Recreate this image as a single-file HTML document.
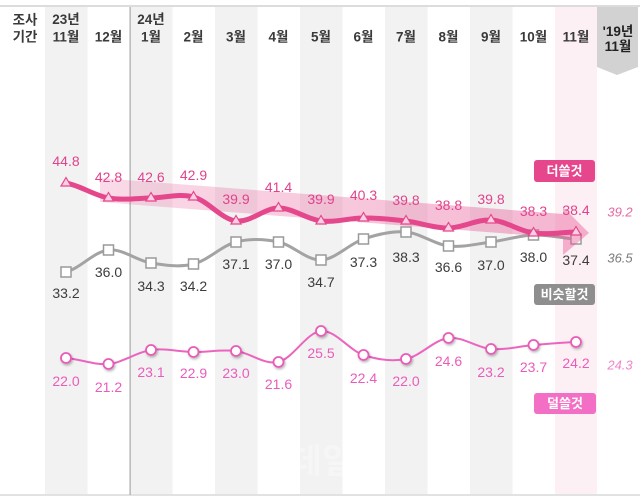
<!DOCTYPE html>
<html><head><meta charset="utf-8"><style>
html,body{margin:0;padding:0;background:#fff;}
svg{display:block;}
text{font-family:"Liberation Sans","Noto Sans CJK KR",sans-serif;}
.h{font-size:13.5px;font-weight:bold;fill:#3a3a3a;text-anchor:middle;dominant-baseline:central;}
.p{font-size:14px;fill:#e0438b;text-anchor:middle;dominant-baseline:central;}
.g{font-size:14px;fill:#3c3c3c;text-anchor:middle;dominant-baseline:central;}
.l{font-size:14px;fill:#ea5cbc;text-anchor:middle;dominant-baseline:central;}
.lg{font-size:13px;fill:#fff;text-anchor:middle;dominant-baseline:central;font-weight:bold;}
.r{font-size:13px;font-style:italic;text-anchor:middle;dominant-baseline:central;}
</style></head><body>
<svg width="640" height="501" viewBox="0 0 640 501" xmlns="http://www.w3.org/2000/svg">
<defs>
<linearGradient id="band" x1="0" y1="0" x2="1" y2="0">
<stop offset="0" stop-color="#e85a96" stop-opacity="0.22"/>
<stop offset="1" stop-color="#e85a96" stop-opacity="0.45"/>
</linearGradient>
<filter id="sh" x="-50%" y="-50%" width="200%" height="200%">
<feDropShadow dx="1" dy="1.5" stdDeviation="1.2" flood-color="#000" flood-opacity="0.3"/>
</filter>
</defs>
<rect x="0" y="0" width="640" height="501" fill="#fff"/>
<g fill="#f2f2f2">
<rect x="45" y="7" width="42.5" height="488"/>
<rect x="130" y="7" width="42.5" height="488"/>
<rect x="215" y="7" width="42.5" height="488"/>
<rect x="300" y="7" width="42.5" height="488"/>
<rect x="385" y="7" width="42.5" height="488"/>
<rect x="470" y="7" width="42.5" height="488"/>
</g>
<rect x="555" y="7" width="42" height="488" fill="#fdf0f5"/>
<rect x="0" y="5" width="640" height="2" fill="#dcdcdc"/>
<rect x="0" y="494" width="640" height="2" fill="#e2e2e2"/>
<rect x="129.5" y="7" width="1.2" height="488" fill="#a8a8a8"/>
<polygon points="597,7 638,7 638,67 617,75 597,67" fill="#d2d2d2"/>
<text class="h" x="25" y="20">조사</text>
<text class="h" x="25" y="37">기간</text>
<text class="h" x="66" y="19.5">23년</text>
<text class="h" x="66" y="37">11월</text>
<text class="h" x="108.5" y="37">12월</text>
<text class="h" x="151" y="19.5">24년</text>
<text class="h" x="151" y="37">1월</text>
<text class="h" x="193.5" y="37">2월</text>
<text class="h" x="236" y="37">3월</text>
<text class="h" x="278.5" y="37">4월</text>
<text class="h" x="321" y="37">5월</text>
<text class="h" x="363.5" y="37">6월</text>
<text class="h" x="406" y="37">7월</text>
<text class="h" x="448.5" y="37">8월</text>
<text class="h" x="491" y="37">9월</text>
<text class="h" x="533.5" y="37">10월</text>
<text class="h" x="576" y="37">11월</text>
<text class="h" x="618" y="31.5" style="fill:#222">'19년</text>
<text class="h" x="618" y="46.5" style="fill:#222">11월</text>

<path d="M66,272 C80.2,268.3 94.3,251.5 108.5,250 C122.7,248.5 136.8,260.7 151,263 C165.2,265.3 179.3,267.5 193.5,264 C207.7,260.5 221.8,245.7 236,242 C250.2,238.3 264.3,239 278.5,242 C292.7,245 306.8,260.5 321,260 C335.2,259.5 349.3,243.7 363.5,239 C377.7,234.3 391.8,230.8 406,232 C420.2,233.2 434.3,244.3 448.5,246 C462.7,247.7 476.8,243.8 491,242 C505.2,240.2 519.3,235.5 533.5,235 C547.7,234.5 561.8,238.3 576,239" fill="none" stroke="#a3a3a3" stroke-width="3"/>
<g fill="#fff" stroke="#9a9a9a" stroke-width="1.5">
<rect x="61" y="267" width="10" height="10"/>
<rect x="103.5" y="245" width="10" height="10"/>
<rect x="146" y="258" width="10" height="10"/>
<rect x="188.5" y="259" width="10" height="10"/>
<rect x="231" y="237" width="10" height="10"/>
<rect x="273.5" y="237" width="10" height="10"/>
<rect x="316" y="255" width="10" height="10"/>
<rect x="358.5" y="234" width="10" height="10"/>
<rect x="401" y="227" width="10" height="10"/>
<rect x="443.5" y="241" width="10" height="10"/>
<rect x="486" y="237" width="10" height="10"/>
<rect x="528.5" y="230" width="10" height="10"/>
<rect x="571" y="234" width="10" height="10"/>
</g>

<polygon points="100,178 563,214 563,207 589,233 563,255 563,238 100,202" fill="url(#band)"/>

<path d="M66,183 C80.2,185.5 94.3,195.5 108.5,198 C122.7,200.5 136.8,198.2 151,198 C165.2,197.8 179.3,193.2 193.5,197 C207.7,200.8 221.8,219.2 236,221 C250.2,222.8 264.3,208 278.5,208 C292.7,208 306.8,219.3 321,221 C335.2,222.7 349.3,218 363.5,218 C377.7,218 391.8,219.3 406,221 C420.2,222.7 434.3,228.2 448.5,228 C462.7,227.8 476.8,219.2 491,220 C505.2,220.8 519.3,231 533.5,233 C547.7,235 561.8,232.2 576,232" fill="none" stroke="#e4478c" stroke-width="5" stroke-linecap="round" stroke-linejoin="round"/>
<g fill="#f9cfe1" stroke="#e4478c" stroke-width="1.2">
<polygon points="66,177.5 61,186 71,186"/>
<polygon points="108.5,192.5 103.5,201 113.5,201"/>
<polygon points="151,192.5 146,201 156,201"/>
<polygon points="193.5,191.5 188.5,200 198.5,200"/>
<polygon points="236,215.5 231,224 241,224"/>
<polygon points="278.5,202.5 273.5,211 283.5,211"/>
<polygon points="321,215.5 316,224 326,224"/>
<polygon points="363.5,212.5 358.5,221 368.5,221"/>
<polygon points="406,215.5 401,224 411,224"/>
<polygon points="448.5,222.5 443.5,231 453.5,231"/>
<polygon points="491,214.5 486,223 496,223"/>
<polygon points="533.5,227.5 528.5,236 538.5,236"/>
<polygon points="576,226.5 571,235 581,235"/>
</g>

<text class="p" x="66" y="161">44.8</text>
<text class="p" x="108.5" y="177">42.8</text>
<text class="p" x="151" y="177">42.6</text>
<text class="p" x="193.5" y="175">42.9</text>
<text class="p" x="236" y="199">39.9</text>
<text class="p" x="278.5" y="187">41.4</text>
<text class="p" x="321" y="199">39.9</text>
<text class="p" x="363.5" y="195">40.3</text>
<text class="p" x="406" y="200">39.8</text>
<text class="p" x="448.5" y="205">38.8</text>
<text class="p" x="491" y="199">39.8</text>
<text class="p" x="533.5" y="211">38.3</text>
<text class="p" x="576" y="210">38.4</text>

<text class="g" x="66" y="293">33.2</text>
<text class="g" x="108.5" y="272">36.0</text>
<text class="g" x="151" y="286">34.3</text>
<text class="g" x="193.5" y="286">34.2</text>
<text class="g" x="236" y="264">37.1</text>
<text class="g" x="278.5" y="264">37.0</text>
<text class="g" x="321" y="282">34.7</text>
<text class="g" x="363.5" y="262">37.3</text>
<text class="g" x="406" y="257">38.3</text>
<text class="g" x="448.5" y="267">36.6</text>
<text class="g" x="491" y="265">37.0</text>
<text class="g" x="533.5" y="257">38.0</text>
<text class="g" x="576" y="260">37.4</text>

<path d="M66,358 C80.2,359 94.3,365.3 108.5,364 C122.7,362.7 136.8,352 151,350 C165.2,348 179.3,351.8 193.5,352 C207.7,352.2 221.8,349.3 236,351 C250.2,352.7 264.3,365.3 278.5,362 C292.7,358.7 306.8,332.2 321,331 C335.2,329.8 349.3,350.3 363.5,355 C377.7,359.7 391.8,361.8 406,359 C420.2,356.2 434.3,339.7 448.5,338 C462.7,336.3 476.8,347.8 491,349 C505.2,350.2 519.3,346.2 533.5,345 C547.7,343.8 561.8,342.5 576,342" fill="none" stroke="#eb65bf" stroke-width="2"/>
<g fill="#fff" stroke="#e85cb8" stroke-width="1.8" filter="url(#sh)">
<circle cx="66" cy="358" r="5"/>
<circle cx="108.5" cy="364" r="5"/>
<circle cx="151" cy="350" r="5"/>
<circle cx="193.5" cy="352" r="5"/>
<circle cx="236" cy="351" r="5"/>
<circle cx="278.5" cy="362" r="5"/>
<circle cx="321" cy="331" r="5"/>
<circle cx="363.5" cy="355" r="5"/>
<circle cx="406" cy="359" r="5"/>
<circle cx="448.5" cy="338" r="5"/>
<circle cx="491" cy="349" r="5"/>
<circle cx="533.5" cy="345" r="5"/>
<circle cx="576" cy="342" r="5"/>
</g>
<text class="l" x="66" y="381">22.0</text>
<text class="l" x="108.5" y="387">21.2</text>
<text class="l" x="151" y="372">23.1</text>
<text class="l" x="193.5" y="373">22.9</text>
<text class="l" x="236" y="373">23.0</text>
<text class="l" x="278.5" y="384">21.6</text>
<text class="l" x="321" y="353">25.5</text>
<text class="l" x="363.5" y="378">22.4</text>
<text class="l" x="406" y="381">22.0</text>
<text class="l" x="448.5" y="361">24.6</text>
<text class="l" x="491" y="372">23.2</text>
<text class="l" x="533.5" y="367">23.7</text>
<text class="l" x="576" y="363">24.2</text>

<text class="r" x="620" y="212" fill="#e56aa0">39.2</text>
<text class="r" x="620" y="258" fill="#7a7a7a">36.5</text>
<text class="r" x="620" y="365" fill="#ee86cc">24.3</text>

<rect x="534" y="160" width="61" height="22" rx="3" fill="#e5468c"/>
<text class="lg" x="564.5" y="171">더쓸것</text>
<rect x="534" y="284" width="61" height="21" rx="3" fill="#8e8e8e"/>
<text class="lg" x="564.5" y="294.5">비슷할것</text>
<rect x="534" y="393" width="62" height="21" rx="3" fill="#f26fc5"/>
<text class="lg" x="565" y="403.5">덜쓸것</text>

<text x="322" y="462" font-size="34" font-weight="bold" fill="#ffffff" fill-opacity="0.35" text-anchor="middle" dominant-baseline="central">이데일리</text>
</svg>
</body></html>
